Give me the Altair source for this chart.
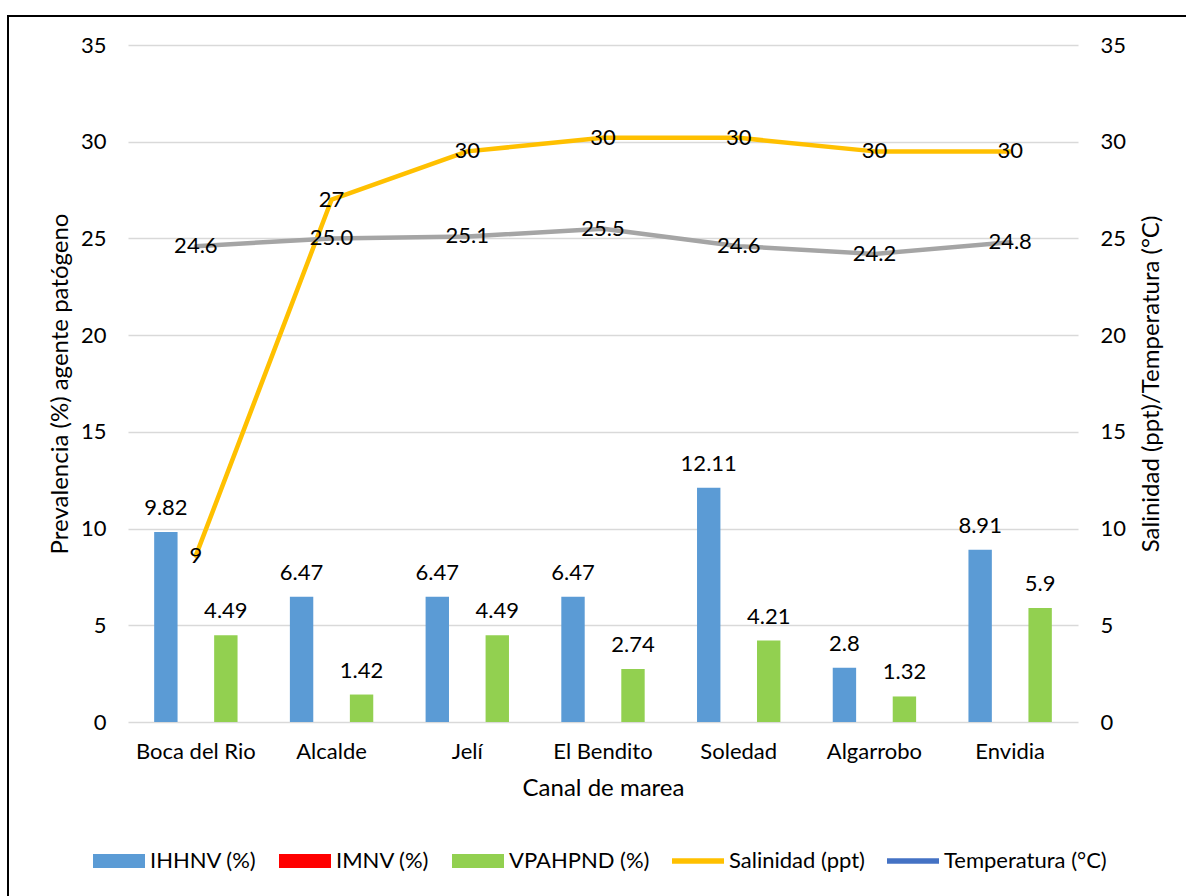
import altair as alt
import pandas as pd

# Tidal channels sampled
canales = ["Boca del Rio", "Alcalde", "Jelí", "El Bendito", "Soledad", "Algarrobo", "Envidia"]

# Pathogen prevalence (%) per channel
ihhnv = [9.82, 6.47, 6.47, 6.47, 12.11, 2.8, 8.91]
imnv = [0, 0, 0, 0, 0, 0, 0]
vpahpnd = [4.49, 1.42, 4.49, 2.74, 4.21, 1.32, 5.9]

# Water parameters per channel
salinidad = [8.6, 27, 29.5, 30.2, 30.2, 29.5, 29.5]
temperatura = [24.6, 25.0, 25.1, 25.5, 24.6, 24.2, 24.8]

bar_series = ["IHHNV (%)", "IMNV (%)", "VPAHPND (%)"]
line_series = ["Salinidad (ppt)", "Temperatura (°C)"]
all_series = bar_series + line_series
legend_colors = ["#5B9BD5", "#FF0000", "#92D050", "#FFC000", "#4472C4"]
# Legend swatches: wide boxes for bars, thin strips for lines
BOX = "M-1,-0.27H1V0.27H-1Z"
STRIP = "M-1,-0.11H1V0.11H-1Z"
legend_shapes = [BOX, BOX, BOX, STRIP, STRIP]

FONT = "Lato"
TXT = "#000000"
GRID = "#D9D9D9"
LBL = 22
TTL = 24

bars_rows = []
for name, vals in zip(bar_series, [ihhnv, imnv, vpahpnd]):
    for c, v in zip(canales, vals):
        bars_rows.append({"canal": c, "serie": name, "valor": v, "etiqueta": f"{v:g}"})
bars_df = pd.DataFrame(bars_rows)

lines_rows = []
for c, s, t in zip(canales, salinidad, temperatura):
    lines_rows.append({"canal": c, "serie": "Salinidad (ppt)", "valor": s, "etiqueta": f"{s:.0f}"})
    lines_rows.append({"canal": c, "serie": "Temperatura (°C)", "valor": t, "etiqueta": f"{t:.1f}"})
lines_df = pd.DataFrame(lines_rows)

key_df = pd.DataFrame({"canal": [canales[0]] * 5, "serie": all_series, "valor": [0] * 5})

x_enc = alt.X(
    "canal:N",
    sort=canales,
    scale=alt.Scale(paddingInner=0.337, paddingOuter=0.1685),
    axis=alt.Axis(
        title="Canal de marea",
        labelAngle=0,
        labelFontSize=LBL,
        titleFontSize=TTL,
        labelPadding=19,
        titlePadding=14,
        ticks=False,
        domain=False,
        labelColor=TXT,
        titleColor=TXT,
        labelFont=FONT,
        titleFont=FONT,
        titleFontWeight="normal",
    ),
)

left_axis = alt.Axis(
    title="Prevalencia (%) agente patógeno",
    values=[0, 5, 10, 15, 20, 25, 30, 35],
    grid=True,
    gridColor=GRID,
    gridWidth=1.5,
    ticks=False,
    domain=False,
    labelFontSize=LBL,
    titleFontSize=TTL,
    labelPadding=22,
    titlePadding=8,
    labelColor=TXT,
    titleColor=TXT,
    labelFont=FONT,
    titleFont=FONT,
    titleFontWeight="normal",
)

right_axis = alt.Axis(
    title="Salinidad (ppt)/Temperatura (°C)",
    orient="right",
    values=[0, 5, 10, 15, 20, 25, 30, 35],
    grid=False,
    ticks=False,
    domain=False,
    labelFontSize=LBL,
    titleFontSize=TTL,
    titleAngle=-90,
    titleBaseline="bottom",
    labelPadding=22,
    titlePadding=38,
    labelColor=TXT,
    titleColor=TXT,
    labelFont=FONT,
    titleFont=FONT,
    titleFontWeight="normal",
)

y_scale = alt.Scale(domain=[0, 35], nice=False, zero=True)

legend = alt.Legend(
    title=None,
    orient="none",
    direction="horizontal",
    legendX=-35,
    legendY=790,
    labelFontSize=LBL,
    labelFont=FONT,
    labelColor=TXT,
    labelLimit=400,
    symbolSize=2704,
    symbolStrokeWidth=0,
    symbolOpacity=1,
    labelOffset=5,
    columnPadding=22,
    padding=0,
)

color_scale = alt.Scale(domain=all_series, range=legend_colors)
offset_scale = alt.Scale(domain=bar_series, paddingInner=0.22, paddingOuter=0.11)

bars = alt.Chart(bars_df).mark_bar().encode(
    x=x_enc,
    xOffset=alt.XOffset("serie:N", scale=offset_scale, sort=bar_series),
    y=alt.Y("valor:Q", scale=y_scale, axis=left_axis),
    color=alt.Color("serie:N", scale=color_scale, legend=legend),
)

# Legend-only layer: its rows are filtered out, the scales still list every series
key = alt.Chart(key_df).transform_filter("false").mark_point(filled=True).encode(
    x=x_enc,
    y=alt.Y("valor:Q", scale=y_scale, axis=left_axis),
    color=alt.Color("serie:N", scale=color_scale, legend=legend),
    shape=alt.Shape("serie:N", scale=alt.Scale(domain=all_series, range=legend_shapes), legend=legend),
)

bar_labels = alt.Chart(bars_df).transform_filter(
    "datum.serie != 'IMNV (%)'"
).mark_text(
    baseline="bottom", dy=-12, fontSize=LBL, font=FONT, color=TXT
).encode(
    x=x_enc,
    xOffset=alt.XOffset("serie:N", scale=offset_scale, sort=bar_series),
    y=alt.Y("valor:Q", scale=y_scale, axis=left_axis),
    text="etiqueta:N",
)

bar_group = alt.layer(bars, key, bar_labels)

line_colors = alt.Scale(domain=line_series, range=["#FFC000", "#A5A5A5"])

lines = alt.Chart(lines_df).mark_line(strokeWidth=4.5, strokeJoin="round", strokeCap="round").encode(
    x=x_enc,
    y=alt.Y("valor:Q", scale=y_scale, axis=right_axis),
    stroke=alt.Stroke("serie:N", scale=line_colors, legend=None),
    detail="serie:N",
)

line_labels = alt.Chart(lines_df).mark_text(
    baseline="middle", align="center", fontSize=LBL, font=FONT, color=TXT
).encode(
    x=x_enc,
    y=alt.Y("valor:Q", scale=y_scale, axis=right_axis),
    text="etiqueta:N",
)

line_group = alt.layer(lines, line_labels)

# Outer chart frame
frame = alt.Chart(alt.Data(values=[{}])).mark_rect(
    fill=None, stroke="#000000", strokeWidth=2
).encode(
    x=alt.value(-120), x2=alt.value(1200), y=alt.value(-29), y2=alt.value(900)
)

chart = alt.layer(frame, bar_group, line_group).resolve_scale(
    y="independent"
).properties(
    width=950,
    height=677,
    padding={"left": 128, "top": 45, "right": 108, "bottom": 174},
    autosize=alt.AutoSizeParams(type="none"),
    background="#FFFFFF",
).configure_view(stroke=None)

chart.save("out.html", embed_options={"renderer": "svg", "actions": False})
